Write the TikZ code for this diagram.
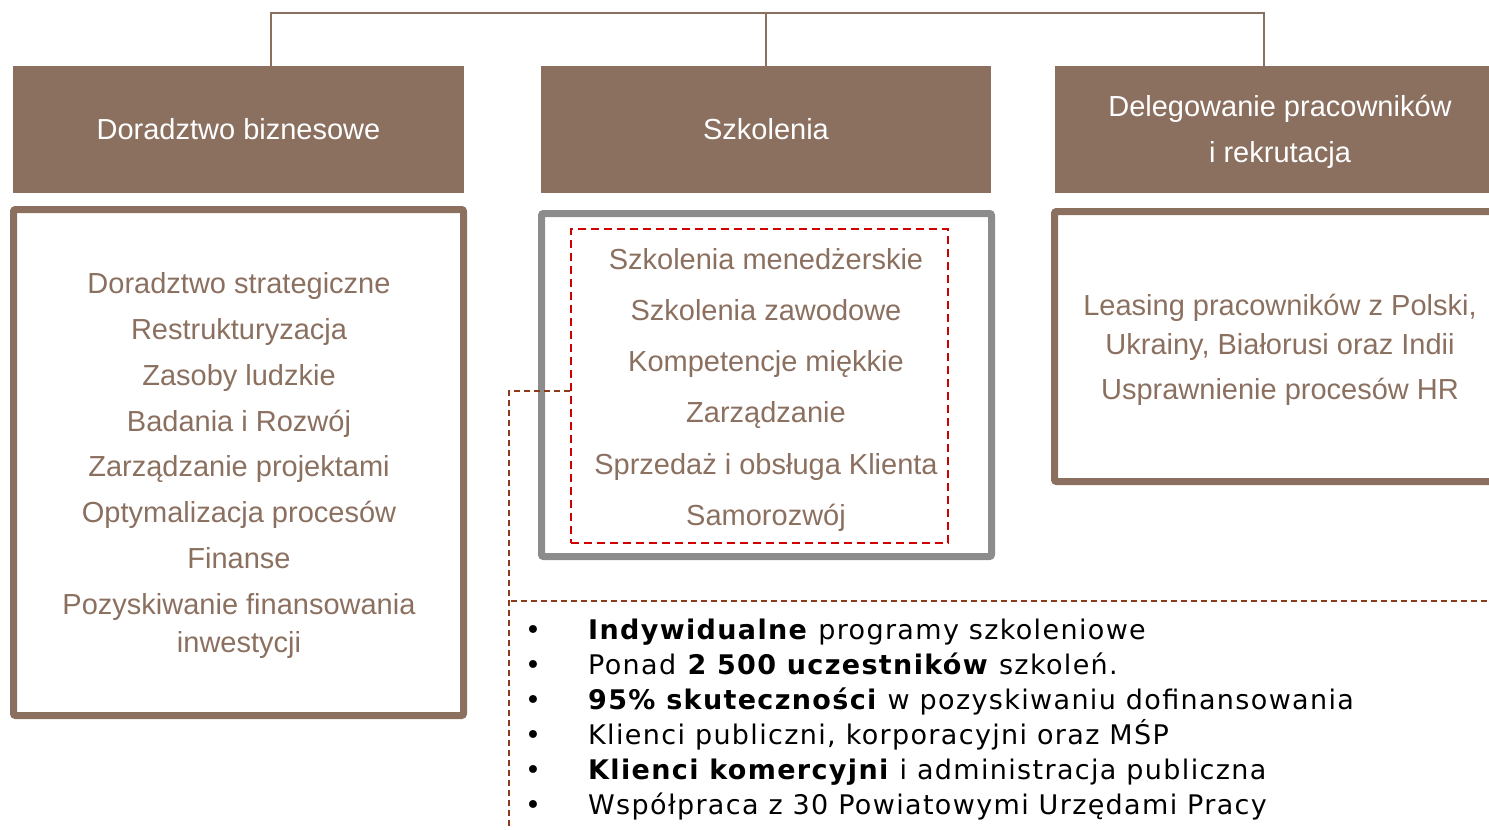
\documentclass[tikz,border=0pt]{standalone}
\usepackage{fontspec}
\setmainfont{Liberation Sans}
\newfontfamily\verd[LetterSpace=5]{DejaVu Sans}
\definecolor{brn}{HTML}{8B7060}
\definecolor{gry}{HTML}{8C8C8C}
\definecolor{redd}{HTML}{D00000}
\definecolor{dbrn}{HTML}{8B3A1A}
\tikzset{
  hdr/.style={fill=brn, draw=none, text=white, font=\fontsize{29}{46}\selectfont, align=center},
  item/.style={text=brn, font=\fontsize{29}{46}\selectfont, inner sep=0pt, anchor=center, text height=21pt, text depth=6pt, yshift=-3pt},
  bul/.style={font=\verd\fontsize{27}{35}\selectfont, inner sep=0pt, anchor=west, text=black, text height=20pt, text depth=6pt, yshift=-2pt},
  conn/.style={draw=brn, line width=1.5pt},
  lnk/.style={draw=dbrn, line width=1.5pt, dash pattern=on 6pt off 4pt}
}
\begin{document}
\begin{tikzpicture}[x=1pt,y=-1pt]
\useasboundingbox (0,0) rectangle (1489,830);
\begin{scope}
\clip (0,0) rectangle (1489,830);
% headers
\node[hdr, minimum width=451pt, minimum height=127pt] (h1) at (238.5,129.5) {Doradztwo biznesowe};
\node[hdr, minimum width=450pt, minimum height=127pt] (h2) at (766,129.5) {Szkolenia};
\node[hdr, minimum width=450pt, minimum height=127pt, anchor=west] (h3) at (1055,129.5) {};
\node[text=white, font=\fontsize{29}{46}\selectfont, align=center] (h3t) at (1280,132) {Delegowanie pracowników\\i rekrutacja};
% top connector
\coordinate (top1) at (271,13);
\coordinate (top3) at (1264,13);
\draw[conn] (h1.north -| top1) -- (top1) -- (top3) -- (h3.north -| top3);
\draw[conn] (h2.north) -- (h2.north |- top1);
% content boxes
\draw[draw=brn, line width=7pt, rounded corners=2pt] (13.5,209.5) rectangle (463.5,715.5);
\draw[draw=gry, line width=7pt, rounded corners=2pt] (541.5,213.5) rectangle (991.5,556.5);
\draw[draw=brn, line width=7pt, rounded corners=2pt] (1560,211.5) -- (1054.5,211.5) -- (1054.5,481.5) -- (1560,481.5);
% red dashed
\node[draw=redd, line width=2pt, dash pattern=on 8pt off 5pt, minimum width=377pt, minimum height=314pt, inner sep=0pt] (rd) at (759.5,386) {};
% left items
\foreach \t/\y [count=\i] in {Doradztwo strategiczne/283, Restrukturyzacja/329, Zasoby ludzkie/375, Badania i Rozwój/421, Zarządzanie projektami/466, Optymalizacja procesów/512, Finanse/558, Pozyskiwanie finansowania/604, inwestycji/642}
  \node[item] (l\i) at (239,\y) {\t};
\foreach \t/\y [count=\i] in {Szkolenia menedżerskie/259, Szkolenia zawodowe/310, Kompetencje miękkie/361, Zarządzanie/412, Sprzedaż i obsługa Klienta/464, Samorozwój/515}
  \node[item] (m\i) at (766,\y) {\t};
\foreach \t/\y [count=\i] in {{Leasing pracowników z Polski,}/305, {Ukrainy, Białorusi oraz Indii}/344, Usprawnienie procesów HR/389}
  \node[item] (r\i) at (1280,\y) {\t};
% dashed link
\coordinate (lk) at (509,391);
\coordinate (lkb) at (509,830);
\coordinate (hl1) at (511,601);
\coordinate (hl2) at (1489,601);
\draw[lnk] (rd.west |- lk) -- (lk) -- (lkb);
\draw[lnk] (hl1) -- (hl2);
% bullets
\foreach \t/\y [count=\i] in {{\textbf{Indywidualne} programy szkoleniowe}/630,
  {Ponad \textbf{2 500 uczestników} szkoleń.}/665,
  {\textbf{95\% skuteczności} w pozyskiwaniu dofinansowania}/700,
  {Klienci publiczni, korporacyjni oraz MŚP}/735,
  {\textbf{Klienci komercyjni} i administracja publiczna}/770,
  {Współpraca z 30 Powiatowymi Urzędami Pracy}/805}
{
  \node[bul] (bt\i) at (588,\y) {\t};
  \node[bul, anchor=center] (bd\i) at (533,\y) {•};
}
\end{scope}
\end{tikzpicture}
\end{document}
